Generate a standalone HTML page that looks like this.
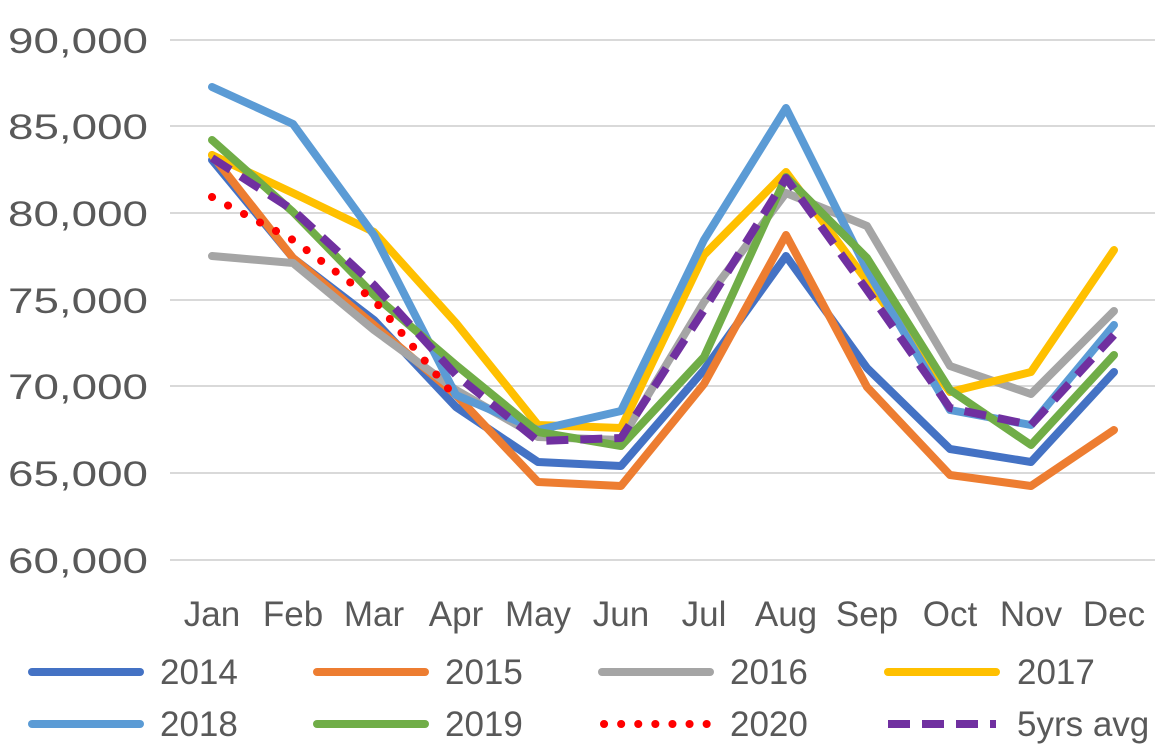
<!DOCTYPE html>
<html><head><meta charset="utf-8"><style>body{margin:0;background:#fff}svg{display:block}text{font-family:"Liberation Sans",sans-serif;fill:#595959;font-size:35px}</style></head><body>
<svg width="1165" height="750" viewBox="0 0 1165 750">
<g stroke="#d9d9d9" stroke-width="2">
<line x1="170" y1="40" x2="1155" y2="40"/><line x1="170" y1="126" x2="1155" y2="126"/><line x1="170" y1="213" x2="1155" y2="213"/><line x1="170" y1="300" x2="1155" y2="300"/><line x1="170" y1="386" x2="1155" y2="386"/><line x1="170" y1="473" x2="1155" y2="473"/><line x1="170" y1="560" x2="1155" y2="560"/></g>
<g><text x="8" y="53" textLength="140" lengthAdjust="spacingAndGlyphs">90,000</text><text x="8" y="139" textLength="140" lengthAdjust="spacingAndGlyphs">85,000</text><text x="8" y="226" textLength="140" lengthAdjust="spacingAndGlyphs">80,000</text><text x="8" y="313" textLength="140" lengthAdjust="spacingAndGlyphs">75,000</text><text x="8" y="399" textLength="140" lengthAdjust="spacingAndGlyphs">70,000</text><text x="8" y="486" textLength="140" lengthAdjust="spacingAndGlyphs">65,000</text><text x="8" y="573" textLength="140" lengthAdjust="spacingAndGlyphs">60,000</text></g>
<g text-anchor="middle"><text x="212" y="626">Jan</text><text x="293" y="626">Feb</text><text x="374" y="626">Mar</text><text x="456" y="626">Apr</text><text x="538" y="626">May</text><text x="621" y="626">Jun</text><text x="704" y="626">Jul</text><text x="786" y="626">Aug</text><text x="867" y="626">Sep</text><text x="950" y="626">Oct</text><text x="1031" y="626">Nov</text><text x="1114" y="626">Dec</text></g>
<g fill="none" stroke-width="8" stroke-linejoin="round" stroke-linecap="round">
<polyline stroke="#4472C4" points="212,160 293,258 374,320 456,407 538,462 621,466 704,370 786,256 867,368 950,449 1031,462 1114,372"/>
<polyline stroke="#ED7D31" points="212,155 293,258 374,325 456,395 538,482 621,486 704,384 786,235 867,387 950,475 1031,486 1114,430"/>
<polyline stroke="#A5A5A5" points="212,256 293,263 374,330 456,390 538,437 621,440 704,302 786,193 867,226 950,366 1031,394 1114,311"/>
<polyline stroke="#FFC000" points="212,155 293,193 374,232 456,323 538,425 621,428 704,255 786,172 867,281 950,392 1031,372 1114,250"/>
<polyline stroke="#5B9BD5" points="212,87 293,124 374,235 456,395 538,430 621,411 704,240 786,108 867,270 950,410 1031,425 1114,325"/>
<polyline stroke="#70AD47" points="212,140 293,212 374,295 456,365 538,432 621,446 704,357 786,177 867,258 950,390 1031,445 1114,355"/>
<polyline stroke="#FF0000" stroke-dasharray="0.1 18" stroke-width="8" points="212,197 293,240 374,300 456,398"/>
<polyline stroke="#7030A0" stroke-dasharray="22 12" stroke-linecap="butt" points="212,158 293,210 374,285 456,375 538,441 621,438 704,310 786,178 867,290 950,408 1031,425 1114,335"/>
<line x1="32" y1="672" x2="140" y2="672" stroke="#4472C4"/>
<line x1="317" y1="672" x2="425" y2="672" stroke="#ED7D31"/>
<line x1="602" y1="672" x2="710" y2="672" stroke="#A5A5A5"/>
<line x1="888" y1="672" x2="996" y2="672" stroke="#FFC000"/>
<line x1="32" y1="724" x2="140" y2="724" stroke="#5B9BD5"/>
<line x1="317" y1="724" x2="425" y2="724" stroke="#70AD47"/>
<line x1="604" y1="724" x2="710" y2="724" stroke="#FF0000" stroke-dasharray="0.1 17" stroke-width="8"/>
<line x1="888" y1="724" x2="996" y2="724" stroke="#7030A0" stroke-dasharray="22 12" stroke-linecap="butt"/>
</g>
<text x="160" y="684">2014</text><text x="445" y="684">2015</text><text x="730" y="684">2016</text><text x="1017" y="684">2017</text>
<text x="160" y="736">2018</text><text x="445" y="736">2019</text><text x="730" y="736">2020</text><text x="1017" y="736">5yrs avg</text>
</svg></body></html>
